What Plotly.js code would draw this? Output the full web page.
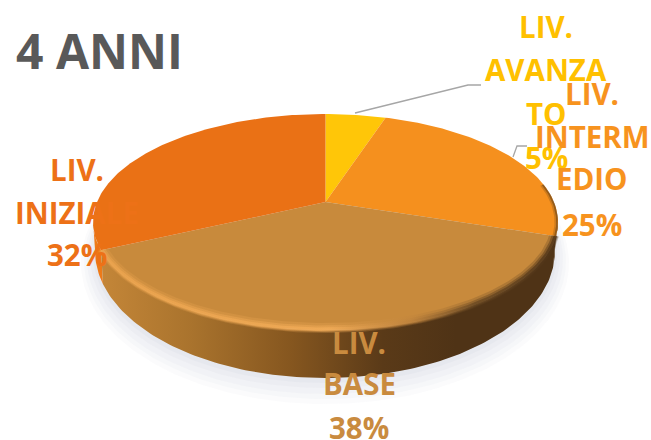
<!DOCTYPE html>
<html><head><meta charset="utf-8">
<script src="https://cdn.plot.ly/plotly-3.0.1.min.js"></script>
<style>html,body{margin:0;padding:0;background:#fff}#c{width:651px;height:440px}</style>
</head><body><div id="c"></div>
<script>
var categories = ['LIV. AVANZATO','LIV. INTERMEDIO','LIV. BASE','LIV. INIZIALE'];
var values = [5,25,38,32];
var sliceColors = ['#ffc608','#f5901e','#c88a3c','#ea7115'];
var labelColors = ['#ffc000','#f7931e','#c98b3f','#ed7117'];
var labelLines = [['LIV.','AVANZA','TO','5%'],['LIV.','INTERM','EDIO','25%'],['LIV.','BASE','38%'],['LIV.','INIZIALE','32%']];
var labelX = [546,592,359,77];
var labelY = [[26,69,113,157],[93,136,178,224],[342,383,427],[169,212,254]];

// disc geometry: perspective circle, top face and bottom face
var d=0.185;
var topE={cx:325.5,cy:222,rx:232.5,ry:108};
var botE={cx:325,cy:251,rx:230,ry:127};
function pt(deg,e,inset,off){
  var t=deg*Math.PI/180, x=Math.sin(t), y=Math.cos(t), w=1+d*y, s=Math.sqrt(1-d*d), i=inset||0;
  return [e.cx+(x*s/w)*(e.rx-i), e.cy-((y+d)/w)*(e.ry-i)+(off||0)];
}
function arc(a,b,e,inset,off){var p=[],n=Math.max(2,Math.ceil(Math.abs(b-a)));for(var i=0;i<=n;i++)p.push(pt(a+(b-a)*i/n,e,inset,off));return p;}
function poly(pts,extra){var o={type:'scatter',mode:'lines',x:pts.map(function(p){return p[0]}),y:pts.map(function(p){return p[1]}),fill:'toself',line:{width:0},hoverinfo:'skip',showlegend:false};for(var k in extra)o[k]=extra[k];return o;}
var total=values.reduce(function(a,b){return a+b},0);
var cum=[0];values.forEach(function(v){cum.push(cum[cum.length-1]+v/total*360)});
var apex=[topE.cx,topE.cy-d*topE.ry];
var sideA=100, sideB=260;

var traces=[];
// soft shadow under the disc
[[-14,12,0.12],[-11,10,0.14],[-8,8,0.18],[-5,5,0.25],[-2,3,0.4]].forEach(function(s){
  traces.push(poly(arc(sideA-25,sideB+25,botE,s[0],s[1]),{fillcolor:'rgba(222,224,232,'+s[2]+')'}));
});
// side wall
function wallPts(a,b){return arc(a,b,topE).concat(arc(b,a,botE));}
traces.push(poly(wallPts(cum[3],sideB),{fillcolor:'#ee7a18'}));
traces.push(poly(wallPts(sideA,cum[2]),{fillcolor:'#5a3a18'}));
traces.push(poly(wallPts(cum[2],cum[3]),{fillcolor:'#85561f',fillgradient:{type:'horizontal',colorscale:[[0,'#c48638'],[0.2,'#a9732d'],[0.42,'#85561f'],[0.62,'#5a3a18'],[0.78,'#4f3316'],[1,'#4f3316']]}}));
// top slices
for(var i=0;i<values.length;i++){
  traces.push(poly([apex].concat(arc(cum[i],cum[i+1],topE)).concat([apex]),{fillcolor:sliceColors[i]}));
}
// bevel on the front rim, straddling the edge
function bevelScale(al){return [[0,'rgba(236,164,78,'+al+')'],[0.5,'rgba(242,172,88,'+al+')'],[0.68,'rgba(190,130,60,'+al+')'],[0.82,'rgba(105,72,34,'+al+')'],[1,'rgba(80,52,24,'+al+')']];}
[[7,-3,0.25],[4.5,-2,0.45],[2.5,-1,0.75]].forEach(function(b){
  var a=arc(cum[2],cum[3],topE,b[1]), c=arc(cum[3],cum[2],topE,b[0]);
  traces.push(poly(a.concat(c),{fillcolor:'rgba(230,155,70,0.3)',fillgradient:{type:'horizontal',colorscale:bevelScale(b[2])}}));
});
// dark rim on the right part of the intermediate slice
[[3.5,0.25],[1.8,0.5]].forEach(function(b){
  var a=arc(80,cum[2],topE), c=arc(cum[2],80,topE,b[0]);
  traces.push(poly(a.concat(c),{fillcolor:'rgba(92,60,24,'+b[1]+')'}));
});
// leader lines
var leaders=[[[355,468,481],[113,85,85]],[[513,517,527],[157,146,146]]];
leaders.forEach(function(l){traces.push({type:'scatter',mode:'lines',x:l[0],y:l[1],line:{color:'#a6a6a6',width:1.3},hoverinfo:'skip',showlegend:false});});

var ann=[{text:'<b>4 ANNI</b>',x:14,y:50,xanchor:'left',yanchor:'middle',font:{size:48,color:'#595959',family:'Open Sans, sans-serif'},showarrow:false,xref:'x',yref:'y'}];
labelLines.forEach(function(ls,i){ls.forEach(function(t,j){
  ann.push({text:'<b>'+t+'</b>',x:labelX[i],y:labelY[i][j],xref:'x',yref:'y',xanchor:'center',yanchor:'middle',showarrow:false,font:{size:29.5,color:labelColors[i],family:'Open Sans, sans-serif'}});
});});

Plotly.newPlot('c',traces,{
  width:651,height:440,margin:{l:0,r:0,t:0,b:0},
  paper_bgcolor:'#fff',plot_bgcolor:'#fff',showlegend:false,
  xaxis:{range:[0,651],visible:false,fixedrange:true},
  yaxis:{range:[440,0],visible:false,fixedrange:true},
  annotations:ann
},{displayModeBar:false,staticPlot:true});
</script></body></html>
